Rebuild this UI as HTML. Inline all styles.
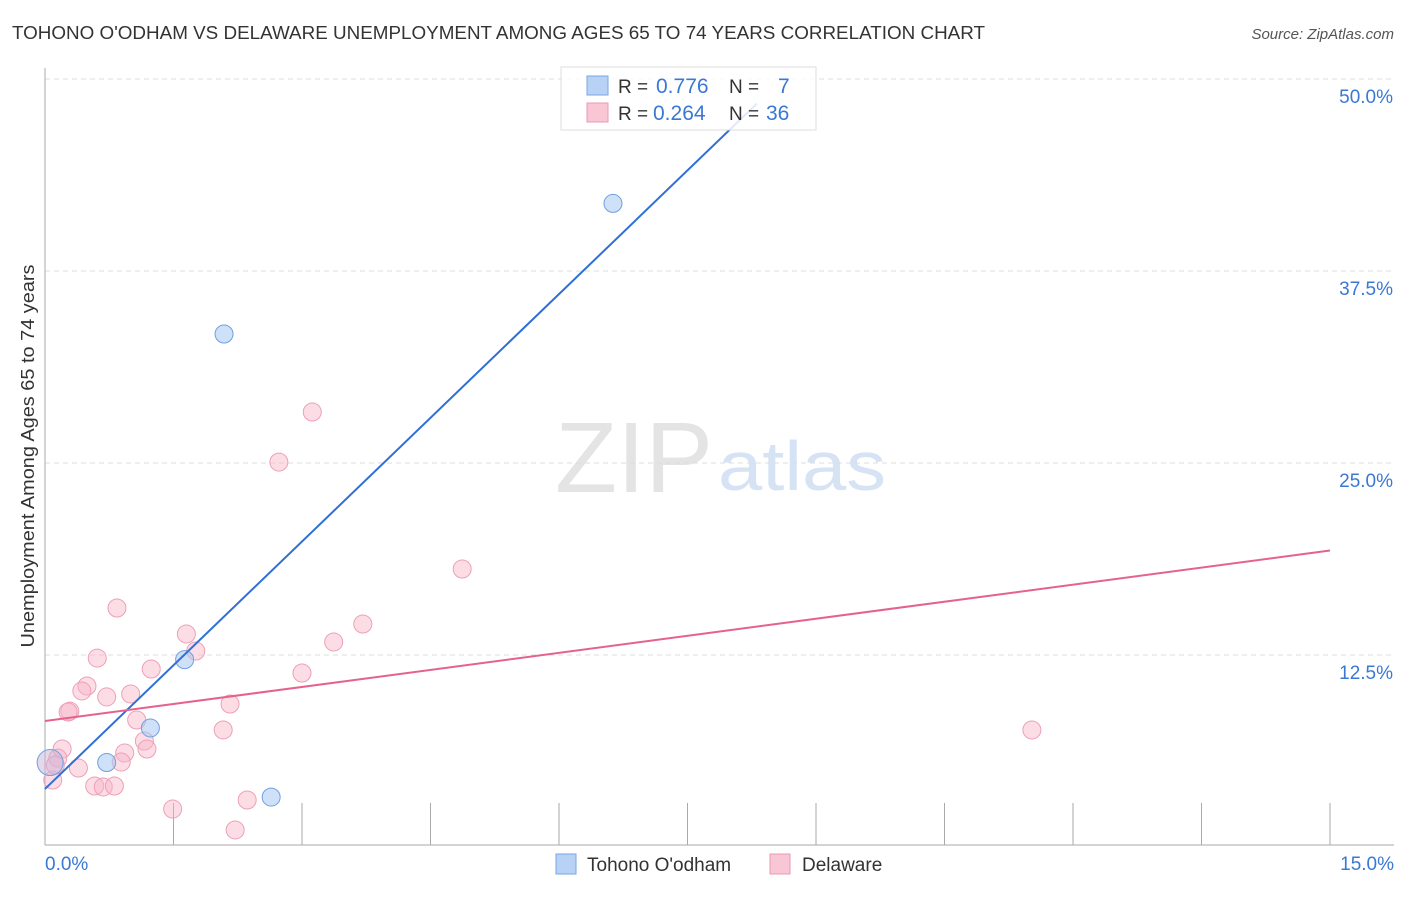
<!DOCTYPE html>
<html><head><meta charset="utf-8"><style>
body{margin:0;background:#fff;font-family:"Liberation Sans",sans-serif;}
svg text{font-family:"Liberation Sans",sans-serif;}
</style></head><body>
<svg id="c" width="1406" height="892" xmlns="http://www.w3.org/2000/svg">
<text x="12" y="39" font-size="18" fill="#333" textLength="973" lengthAdjust="spacingAndGlyphs">TOHONO O'ODHAM VS DELAWARE UNEMPLOYMENT AMONG AGES 65 TO 74 YEARS CORRELATION CHART</text>
<text x="1394" y="39" font-size="15" fill="#555" font-style="italic" text-anchor="end">Source: ZipAtlas.com</text>
<text x="555" y="492" font-size="100" fill="#e4e4e4" font-family="Liberation Serif" textLength="158" lengthAdjust="spacingAndGlyphs">ZIP</text>
<text x="718" y="490" font-size="70" fill="#d6e3f5" textLength="168" lengthAdjust="spacingAndGlyphs">atlas</text>
<g id="grid"></g>
<line x1="45" y1="68" x2="45" y2="845" stroke="#aaa"/>
<line x1="45" y1="845" x2="1394" y2="845" stroke="#aaa"/>
<g id="ticks"></g>
<text transform="translate(34,456) rotate(-90)" font-size="18" fill="#333" text-anchor="middle" textLength="383" lengthAdjust="spacingAndGlyphs">Unemployment Among Ages 65 to 74 years</text>
<g id="pts"></g>
<g id="lines"></g>
<g>
<rect x="561" y="67" width="255" height="63" fill="rgba(255,255,255,0.85)" stroke="#ddd"/>
<rect x="587" y="76" width="21" height="19" fill="#b8d2f5" stroke="#7aa6e6"/>
<text x="618" y="93" font-size="19" fill="#333">R =</text>
<text x="656" y="93" font-size="21" fill="#3a78d4">0.776</text>
<text x="729" y="93" font-size="19" fill="#333">N =</text>
<text x="778" y="93" font-size="21" fill="#3a78d4">7</text>
<rect x="587" y="103" width="21" height="19" fill="#f9c6d5" stroke="#eb9ab3"/>
<text x="618" y="120" font-size="19" fill="#333">R =</text>
<text x="653" y="120" font-size="21" fill="#3a78d4">0.264</text>
<text x="729" y="120" font-size="19" fill="#333">N =</text>
<text x="766" y="120" font-size="21" fill="#3a78d4">36</text>
</g>
<g>
<rect x="556" y="854" width="20" height="20" fill="#b8d2f5" stroke="#7aa6e6"/>
<text x="587" y="871" font-size="19" fill="#333">Tohono O'odham</text>
<rect x="770" y="854" width="20" height="20" fill="#f9c6d5" stroke="#eb9ab3"/>
<text x="802" y="871" font-size="19" fill="#333">Delaware</text>
</g>
</svg>
<script>
const yTicks=[12.5,25,37.5,50];
const yTickLabels=["12.5%","25.0%","37.5%","50.0%"];
const xTickLabels=["0.0%","15.0%"];
const blueX=[0.06,0.72,1.23,1.63,2.09,2.64,6.63];
const blueY=[5.5,5.5,7.75,12.2,33.4,3.25,41.9];
const pinkX=[0.84,0.61,1.65,1.76,1.24,3.00,0.49,0.43,0.72,1.00,0.29,0.27,2.16,1.07,2.08,1.16,0.93,1.19,0.89,0.20,0.15,0.39,0.09,0.58,0.68,0.81,1.49,2.36,2.22,2.73,3.12,4.87,3.71,3.37,11.52,0.12];
const pinkY=[15.56,12.30,13.87,12.76,11.59,11.33,10.48,10.16,9.77,9.96,8.85,8.79,9.31,8.27,7.62,6.90,6.12,6.38,5.53,6.38,5.79,5.14,4.36,3.97,3.91,3.97,2.47,3.06,1.11,25.06,28.32,18.10,14.52,13.35,7.62,5.34];
const blueLine=[0,3.78,8.31,48.4];
const pinkLine=[0,8.2,15,19.3];
const X=v=>45+v/15*1285, Y=v=>847-v/12.5*192;
const NS="http://www.w3.org/2000/svg";
function mk(t,p,a){const e=document.createElementNS(NS,t);for(const k in a)e.setAttribute(k,a[k]);p.appendChild(e);return e;}
const g=document.getElementById('grid'),tk=document.getElementById('ticks');
yTicks.forEach((v,i)=>{
 const l=mk('line',g,{x1:45,x2:1394,y1:Y(v),y2:Y(v),stroke:'#ddd','stroke-dasharray':'5,4'});
 
 
 const t=mk('text',tk,{x:1393,y:Y(v)+24,'font-size':19,fill:'#3a78d4','text-anchor':'end'});t.textContent=yTickLabels[i];
 
 
});
for(let i=0;i<=10;i++){const l=mk('line',tk,{x1:X(i*1.5),x2:X(i*1.5),y1:i==0?845:803,y2:845,stroke:'#aaa'});
 
 }
[[0,'start',45],[1,'end',1394]].forEach(([i,a,x])=>{const t=mk('text',tk,{x:x,y:870,'font-size':19,fill:'#3a78d4','text-anchor':a});t.textContent=xTickLabels[i];
 
 });
const p=document.getElementById('pts');
pinkX.forEach((x,i)=>{const c=mk('circle',p,{cx:X(x),cy:Y(pinkY[i]),r:9,fill:'rgba(248,180,200,0.45)',stroke:'#eda0b8','stroke-width':1});
 
 });
blueX.forEach((x,i)=>{const c=mk('circle',p,{cx:X(x),cy:Y(blueY[i]),r:i==0?13:9,fill:i==0?'rgba(200,180,215,0.5)':'rgba(168,200,242,0.55)',stroke:'#6f9fe2','stroke-width':1});
 
 });
const L=document.getElementById('lines');
const bl=mk('line',L,{x1:X(blueLine[0]),y1:Y(blueLine[1]),x2:X(blueLine[2]),y2:Y(blueLine[3]),stroke:'#2f6fd6','stroke-width':2});


const pl=mk('line',L,{x1:X(pinkLine[0]),y1:Y(pinkLine[1]),x2:X(pinkLine[2]),y2:Y(pinkLine[3]),stroke:'#e5628e','stroke-width':2});


</script>
</body></html>
